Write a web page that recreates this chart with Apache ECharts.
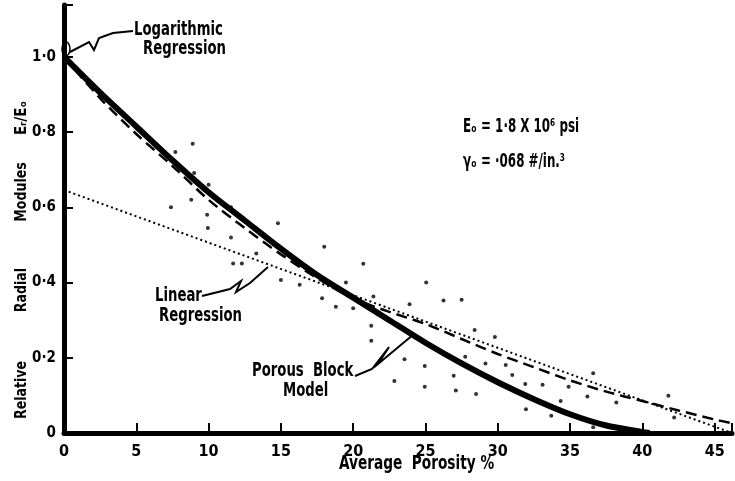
<!DOCTYPE html>
<html>
<head>
<meta charset="utf-8">
<script src="https://cdn.jsdelivr.net/npm/echarts@6/dist/echarts.min.js"></script>
<style>
  html, body { margin: 0; padding: 0; background: #fff; }
  #chart { width: 735px; height: 481px; }
</style>
</head>
<body>
<div id="chart"></div>
<script>
// axis ticks
const xTicks = [0, 5, 10, 15, 20, 25, 30, 35, 40, 45]
const yTicks = [0, 0.2, 0.4, 0.6, 0.8, 1.0]

// porous block model (thick solid)
const porousBlock = [
  [0, 1.0], [2.5, 0.905], [5, 0.815], [7.5, 0.725], [10, 0.64], [12.5, 0.565],
  [15, 0.49], [17.5, 0.42], [20, 0.36], [22.5, 0.30], [25, 0.24], [27.5, 0.185],
  [30, 0.135], [32.5, 0.09], [35, 0.05], [37.5, 0.02], [40, 0.003], [40.5, 0],
]

// logarithmic regression (dashed)
const logRegression = [
  [0, 1.0], [2.5, 0.89], [5, 0.795], [7.5, 0.71], [10, 0.62], [12.5, 0.545],
  [15, 0.475], [17.5, 0.412], [20, 0.358], [22.5, 0.322], [25, 0.29], [27.5, 0.25],
  [30, 0.21], [32.5, 0.175], [35, 0.14], [37.5, 0.11], [40, 0.085], [42.5, 0.06],
  [45, 0.036], [46.2, 0.026],
]

// linear regression (dotted)
const linRegression = [[0, 0.646], [46.2, 0.0]]

// measured samples
const samples = [
  [8.9, 0.769], [7.7, 0.747], [9.0, 0.691], [10.0, 0.66], [8.8, 0.62], [7.4, 0.60],
  [9.9, 0.58], [11.55, 0.60], [9.95, 0.545], [11.55, 0.52], [14.8, 0.558], [13.3, 0.477],
  [11.7, 0.451], [12.3, 0.451], [18.0, 0.495], [19.5, 0.40], [15.0, 0.407], [16.3, 0.394],
  [17.85, 0.358], [20.7, 0.45], [21.4, 0.363], [18.8, 0.336], [20.0, 0.332], [21.25, 0.285],
  [21.25, 0.245], [22.85, 0.138], [25.05, 0.40], [23.9, 0.342], [26.25, 0.352], [27.5, 0.354],
  [28.4, 0.274], [29.8, 0.255], [23.55, 0.196], [24.95, 0.178], [24.95, 0.123], [27.75, 0.203],
  [26.95, 0.152], [27.1, 0.113], [28.5, 0.104], [29.15, 0.185], [30.55, 0.181], [31.0, 0.154],
  [31.9, 0.130], [31.95, 0.063], [33.1, 0.128], [34.9, 0.123], [34.35, 0.085], [33.7, 0.046],
  [36.6, 0.159], [36.2, 0.097], [36.6, 0.015], [38.2, 0.081], [41.8, 0.099], [42.2, 0.041],
]

const FONT = "'DejaVu Sans Condensed', 'DejaVu Sans', sans-serif"
const bold = (size) => 'bold ' + size + 'px ' + FONT

const chart = echarts.init(document.getElementById('chart'))

// hand lettered notes: narrow and tall like the original
const note = (text, x, y, size, sx) => ({
  type: 'text', x: x, y: y, z: 10,
  scaleX: sx || 0.92, scaleY: 1.25,
  style: { text: text, font: bold(size), fill: '#000', verticalAlign: 'middle' },
})

// rotated y axis words
const yWord = (text, y, size) => ({
  type: 'text', x: 22, y: y, z: 10,
  rotation: Math.PI / 2, scaleY: 1.1,
  style: { text: text, font: bold(size), fill: '#000', align: 'center', verticalAlign: 'middle' },
})

const leader = (points) => ({
  type: 'polyline', z: 10,
  shape: { points: points },
  style: { stroke: '#000', lineWidth: 2, fill: null },
})

const option = {
  backgroundColor: '#fff',
  animation: false,
  grid: { left: 64, right: 0, top: 5, bottom: 48 },
  xAxis: {
    type: 'value',
    min: 0,
    max: 46.2,
    interval: 5,
    splitLine: { show: false },
    axisLine: { lineStyle: { color: '#000', width: 5 } },
    axisTick: { inside: true, length: 10, lineStyle: { color: '#000', width: 2 } },
    axisLabel: {
      margin: 11,
      color: '#000',
      fontFamily: FONT,
      fontWeight: 'bold',
      fontSize: 16,
      formatter: (v) => (xTicks.includes(v) ? String(v) : ''),
    },
  },
  yAxis: {
    type: 'value',
    min: 0,
    max: 1.138,
    interval: 0.2,
    splitLine: { show: false },
    axisLine: { lineStyle: { color: '#000', width: 5 } },
    axisTick: { inside: true, length: 9, lineStyle: { color: '#000', width: 2 } },
    axisLabel: {
      margin: 8,
      color: '#000',
      fontFamily: FONT,
      fontWeight: 'bold',
      fontSize: 15,
      formatter: (v) => {
        const t = yTicks.find((k) => Math.abs(k - v) < 1e-6)
        if (t === undefined) return ''
        return t === 0 ? '0' : t.toFixed(1).replace('.', '·')
      },
    },
  },
  series: [
    {
      name: 'Linear Regression',
      type: 'line',
      data: linRegression,
      showSymbol: false,
      lineStyle: { color: '#000', width: 2, type: [2, 3] },
      z: 3,
    },
    {
      name: 'Logarithmic Regression',
      type: 'line',
      data: logRegression,
      smooth: 0.3,
      showSymbol: false,
      lineStyle: { color: '#000', width: 2.5, type: [11, 6] },
      z: 4,
    },
    {
      name: 'Porous Block Model',
      type: 'line',
      data: porousBlock,
      smooth: 0.3,
      showSymbol: false,
      lineStyle: { color: '#000', width: 6 },
      z: 5,
    },
    {
      name: 'Samples',
      type: 'scatter',
      data: samples,
      symbolSize: 4,
      itemStyle: { color: '#000' },
      z: 6,
    },
  ],
  graphic: [
    // y axis title, reads bottom to top
    yWord('Relative', 390, 14),
    yWord('Radial', 290, 14),
    yWord('Modules', 192, 14),
    yWord('Eᵣ/Eₒ', 118, 15),

    // x axis title
    note('Average  Porosity %', 339, 464, 16, 0.95),

    // curve notes
    note('Logarithmic', 134, 30, 16),
    note('Regression', 143, 49, 16),
    leader([[133, 31], [113, 33], [99, 38], [94, 50], [89, 42], [70, 52]]),
    { type: 'ellipse', z: 10, shape: { cx: 66, cy: 49, rx: 4, ry: 7 }, style: { stroke: '#000', lineWidth: 1.5, fill: null } },

    note('Linear', 155, 296, 16),
    note('Regression', 159, 316, 16),
    leader([[202, 296], [230, 289], [241, 281], [236, 292], [250, 283], [268, 267]]),

    note('Porous  Block', 252, 371, 16),
    note('Model', 283, 391, 16),
    leader([[355, 376], [372, 369], [389, 347], [378, 364], [396, 349], [414, 334]]),

    // material constants
    note('Eₒ = 1·8 X 10⁶ psi', 463, 127, 15, 0.88),
    note('γₒ = ·068 #/in.³', 463, 162, 15, 0.88),
  ],
}

chart.setOption(option)
</script>
</body>
</html>
